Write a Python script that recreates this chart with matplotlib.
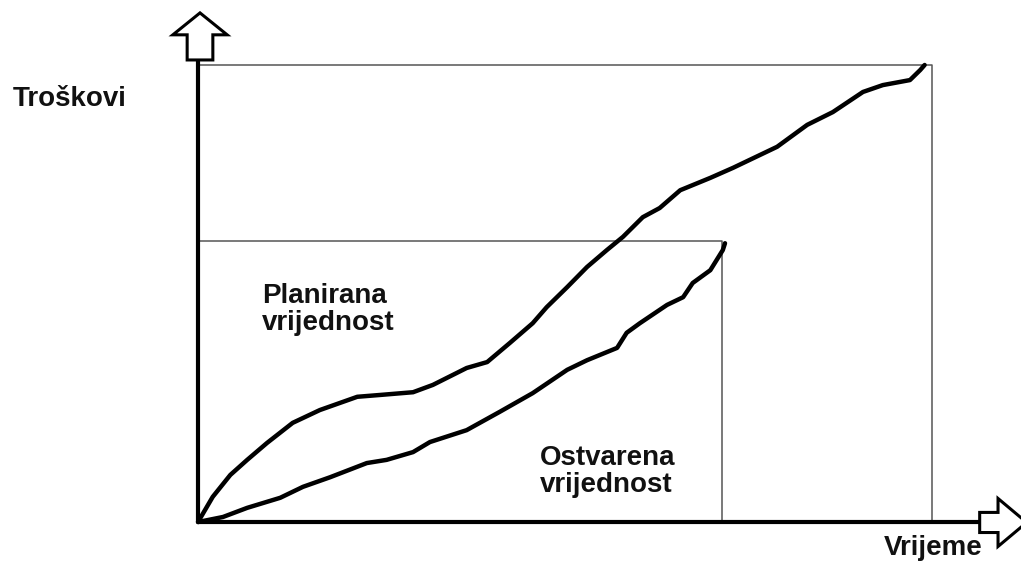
import matplotlib
matplotlib.use("Agg")
import matplotlib.pyplot as plt
from matplotlib.patches import FancyArrow

# Planirana vrijednost (vrijeme, troskovi)
plan_t = [0, 2.0, 4.4, 6.7, 9.4, 12.9, 16.6, 21.7, 24.8, 29.3, 32.0, 36.6, 39.4, 42.5,
          45.6, 47.5, 50.3, 53.0, 55.7, 57.9, 60.6, 62.9, 65.7, 69.8, 72.9, 78.9,
          83.0, 86.5, 90.6, 93.3, 97.0, 98.4, 99.0]
plan_c = [0, 5.5, 10.3, 13.6, 17.3, 21.7, 24.5, 27.4, 27.8, 28.4, 30.0, 33.7, 35.0, 39.2,
          43.5, 47.0, 51.4, 55.8, 59.5, 62.4, 66.7, 68.7, 72.6, 75.3, 77.5, 82.1,
          86.9, 89.7, 94.1, 95.6, 96.7, 98.9, 100.0]

# Ostvarena vrijednost
ostv_t = [0, 3.4, 6.7, 11.2, 14.3, 18.0, 23.0, 25.7, 29.3, 31.6, 36.6, 41.1, 45.6,
          50.3, 53.0, 57.1, 58.4, 60.2, 63.9, 66.1, 67.4, 69.8, 71.5, 71.8]
ostv_c = [0, 1.1, 3.1, 5.3, 7.7, 9.8, 12.9, 13.6, 15.3, 17.5, 20.1, 24.1, 28.2,
          33.3, 35.4, 38.1, 41.4, 43.5, 47.5, 49.2, 52.3, 55.1, 59.5, 61.0]

plan_end = (100, 100)
ostv_end = (71.4, 61.5)

fig = plt.figure(figsize=(10.21, 5.61), dpi=100)
ax = fig.add_axes([0, 0, 1, 1])
ax.set_xlim(-26.98, 112.13)
ax.set_ylim(-8.53, 114.22)
ax.axis("off")

font = dict(family="Liberation Sans", fontweight="bold", fontsize=20, color="#111111")

# tanke linije okvira
ax.plot([0, plan_end[0], plan_end[0]], [plan_end[1], plan_end[1], 0], color="#555555", lw=1.1)
ax.plot([0, ostv_end[0], ostv_end[0]], [ostv_end[1], ostv_end[1], 0], color="#555555", lw=1.1)

# osi
ax.plot([0, 0], [0, 101.2], color="black", lw=3, solid_capstyle="butt")
ax.plot([0, 106.5], [0, 0], color="black", lw=3, solid_capstyle="butt")

# strelice
ax.add_patch(FancyArrow(0.27, 101.1, 0, 10.3, width=3.5, head_width=7.4, head_length=4.8,
                        length_includes_head=True, fc="white", ec="black", lw=2.2))
ax.add_patch(FancyArrow(106.5, -0.1, 6.4, 0, width=4.4, head_width=10.5, head_length=3.9,
                        length_includes_head=True, fc="white", ec="black", lw=2.2))

# krivulje
ax.plot(plan_t, plan_c, color="black", lw=3.2, solid_capstyle="round", solid_joinstyle="round")
ax.plot(ostv_t, ostv_c, color="black", lw=3.2, solid_capstyle="round", solid_joinstyle="round")

# tekst
ax.text(-25.3, 92.5, "Troškovi", ha="left", va="center", **font)
ax.text(8.7, 46.5, "Planirana\nvrijednost", ha="left", va="center", linespacing=1.05, **font)
ax.text(46.6, 11.0, "Ostvarena\nvrijednost", ha="left", va="center", linespacing=1.05, **font)
ax.text(93.5, -7.3, "Vrijeme", ha="left", va="baseline", **font)

fig.savefig("out.png", dpi=100)
